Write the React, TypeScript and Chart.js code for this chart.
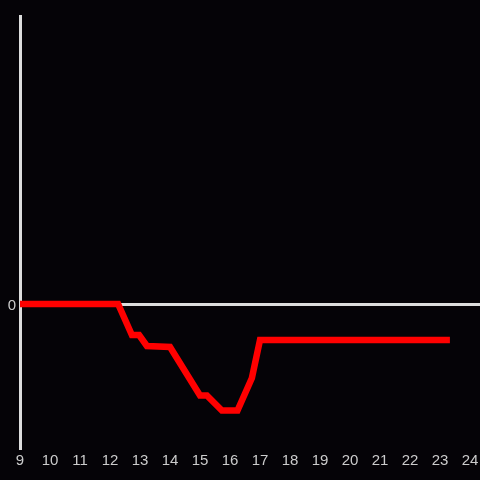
import React, { useEffect, useRef } from "react";
import { Chart, registerables } from "chart.js";

Chart.register(...registerables);

const hours = [9, 12.27, 12.73, 12.97, 13.23, 14.0, 15.0, 15.23, 15.73, 16.25, 16.73, 17.0, 23.33];
const values = [0, 0, -0.31, -0.31, -0.42, -0.43, -0.915, -0.915, -1.065, -1.065, -0.74, -0.36, -0.36];
const xTicks = [9, 10, 11, 12, 13, 14, 15, 16, 17, 18, 19, 20, 21, 22, 23, 24];
const yTicks = [0];

export default function App() {
  const ref = useRef<HTMLCanvasElement>(null);
  useEffect(() => {
    const chart = new Chart(ref.current!, {
      type: "line",
      data: {
        datasets: [
          {
            data: hours.map((h, i) => ({ x: h, y: values[i] })),
            borderColor: "#ff0000",
            borderWidth: 6.5,
            pointRadius: 0,
            tension: 0,
            fill: false,
            borderJoinStyle: "miter",
          },
        ],
      },
      options: {
        animation: false,
        responsive: false,
        maintainAspectRatio: false,
        layout: { padding: { top: 16, right: 0, left: 0, bottom: 0 } },
        plugins: { legend: { display: false }, tooltip: { enabled: false } },
        scales: {
          x: {
            type: "linear",
            min: 9,
            max: 24 + 1 / 3,
            afterBuildTicks: (s: any) => {
              s.ticks = xTicks.map((v) => ({ value: v }));
            },
            afterFit: (s: any) => {
              s.height = 32;
              s.paddingLeft = 0;
              s.paddingRight = 0;
            },
            grid: { display: false, drawTicks: false },
            border: { display: false },
            ticks: {
              padding: 4,
              color: "#cccccc",
              font: { family: "'Liberation Sans', Arial, sans-serif", size: 15 },
              maxRotation: 0,
              autoSkip: false,
              callback: (v: any) => String(v),
            },
          },
          y: {
            type: "linear",
            min: -1.44,
            max: 2.88,
            afterBuildTicks: (s: any) => {
              s.ticks = yTicks.map((v) => ({ value: v }));
            },
            afterFit: (s: any) => {
              s.width = 20;
              s.paddingTop = 0;
              s.paddingBottom = 0;
            },
            grid: { color: "#dddddd", lineWidth: 3, drawTicks: false },
            border: { display: true, color: "#dddddd", width: 3 },
            ticks: {
              padding: 4,
              labelOffset: 2,
              color: "#cccccc",
              font: { family: "'Liberation Sans', Arial, sans-serif", size: 15 },
              callback: (v: any) => String(v),
            },
          },
        },
      },
      plugins: [
        {
          id: "bg",
          beforeDraw: (c: any) => {
            const ctx = c.ctx;
            ctx.save();
            ctx.fillStyle = "#050307";
            ctx.fillRect(0, 0, c.width, c.height);
            ctx.restore();
          },
        },
      ],
    } as any);
    return () => chart.destroy();
  }, []);
  return (
    <div style={{ position: "fixed", left: 0, top: 0, width: 480, height: 480, background: "#050307" }}>
      <canvas ref={ref} width={480} height={480} style={{ display: "block" }} />
    </div>
  );
}
